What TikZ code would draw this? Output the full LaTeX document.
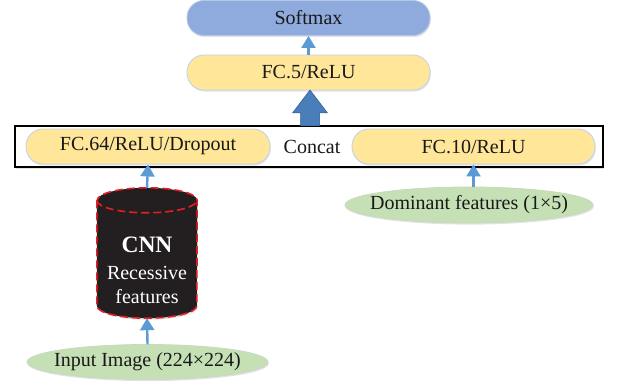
\documentclass[tikz,border=0pt]{standalone}
\usepackage{fontspec}
\setmainfont{Liberation Serif}
\usetikzlibrary{arrows.meta,shadows}

\definecolor{boxyellow}{HTML}{FFE699}
\definecolor{boxedge}{HTML}{C5D3E8}
\definecolor{softblue}{HTML}{8FAADC}
\definecolor{softedge}{HTML}{B4C7E7}
\definecolor{leafgreen}{HTML}{C5E0B4}
\definecolor{leafedge}{HTML}{C9D9C0}
\definecolor{arrowblue}{HTML}{5B9BD5}
\definecolor{bigblue}{HTML}{4A7EBB}
\definecolor{bigedge}{HTML}{2F5597}
\definecolor{cylred}{HTML}{E31E24}
\definecolor{cylblack}{HTML}{231F20}

\tikzset{
  x=1pt, y=1pt,
  every node/.style={font=\fontsize{20}{24}\selectfont, text=black!90, inner sep=0pt},
  softshadow/.style={drop shadow={shadow xshift=0.8pt, shadow yshift=-1.6pt, opacity=0.22, fill=gray}},
  pill/.style={rectangle, rounded corners=17pt, minimum height=35pt, draw=boxedge, line width=0.9pt, softshadow},
  fcbox/.style={pill, fill=boxyellow},
  outbox/.style={pill, fill=softblue, draw=softedge},
  ovalfill/.style={fill=leafgreen, draw=leafedge, line width=0.8pt, softshadow},
  flow/.style={draw=arrowblue, line width=2.4pt, -{Triangle[width=14pt,length=12pt]}},
}

\begin{document}
\begin{tikzpicture}
\useasboundingbox (0,0) rectangle (619,383);

% top of the stack
\node[outbox, minimum width=243pt] (softmax) at (308.5,365) {Softmax};
\node[fcbox, minimum width=243pt] (fc5) at (308.5,310.5) {FC.5/ReLU};

% concatenation frame with its two branches
\node[draw=black, line width=2pt, fill=white, softshadow, rectangle,
      minimum width=588pt, minimum height=41pt] (concatframe) at (309,236.5) {};
\node[fcbox, minimum width=244pt] (fc64) at (148,236.5) {FC.64/ReLU/Dropout};
\node[fcbox, minimum width=243pt] (fc10) at (473.5,236.5) {FC.10/ReLU};
\node (concat) at (312,236.5) {Concat};

% CNN cylinder
\node[minimum width=100pt, minimum height=130pt] (cnn) at (147,130) {};
\fill[cylblack, softshadow]
  ([yshift=-12.5pt]cnn.north west) -- ([yshift=12.5pt]cnn.south west)
  arc[start angle=180, end angle=360, x radius=50pt, y radius=12.5pt]
  -- ([yshift=-12.5pt]cnn.north east)
  arc[start angle=0, end angle=180, x radius=50pt, y radius=12.5pt] -- cycle;
\draw[cylred, line width=1.6pt, dash pattern=on 8pt off 4pt]
  ([yshift=-12.5pt]cnn.north west) -- ([yshift=12.5pt]cnn.south west)
  arc[start angle=180, end angle=360, x radius=50pt, y radius=12.5pt]
  -- ([yshift=-12.5pt]cnn.north east)
  arc[start angle=0, end angle=180, x radius=50pt, y radius=12.5pt];
\draw[cylred, line width=1.6pt, dash pattern=on 8pt off 4pt]
  ([yshift=-12.5pt]cnn.north west)
  arc[start angle=180, end angle=360, x radius=50pt, y radius=12.5pt];
\node[text=white, font=\fontsize{23.5}{26}\selectfont\bfseries] (cnntitle) at (147,138) {CNN};
\node[text=white] (cnnline1) at (147,110) {Recessive};
\node[text=white] (cnnline2) at (147,86) {features};

% input ovals: the oval is drawn round a text node of the same size
\node[minimum width=241pt, minimum height=35pt] (input) at (147.5,21) {};
\fill[ovalfill] (input.center) ellipse[x radius=120.5pt, y radius=17.5pt];
\node (inputtext) at (input.center) {Input Image (224×224)};

\node[minimum width=248pt, minimum height=36pt] (dominant) at (469,178) {};
\fill[ovalfill] (dominant.center) ellipse[x radius=124pt, y radius=18pt];
\node (dominanttext) at (dominant.center) {Dominant features (1×5)};

% connectors
\draw[flow] (input.north) -- (cnn.south);
\draw[flow] (cnn.north) -- (fc64.south);
\draw[flow] (dominant.north -| fc10.south) -- (fc10.south);
\draw[flow] (fc5.north) -- (softmax.south);

% wide arrow from the concat frame into FC.5
\coordinate (bigbase) at (310,257);
\coordinate (bigtip) at (310,293);
\fill[bigblue, draw=bigedge, line width=0.5pt]
  ([xshift=-9.5pt]bigbase) -- ([xshift=-9.5pt,yshift=13pt]bigbase)
  -- ([xshift=-17.5pt,yshift=13pt]bigbase) -- (bigtip)
  -- ([xshift=17.5pt,yshift=13pt]bigbase) -- ([xshift=9.5pt,yshift=13pt]bigbase)
  -- ([xshift=9.5pt]bigbase) -- cycle;
\end{tikzpicture}
\end{document}
